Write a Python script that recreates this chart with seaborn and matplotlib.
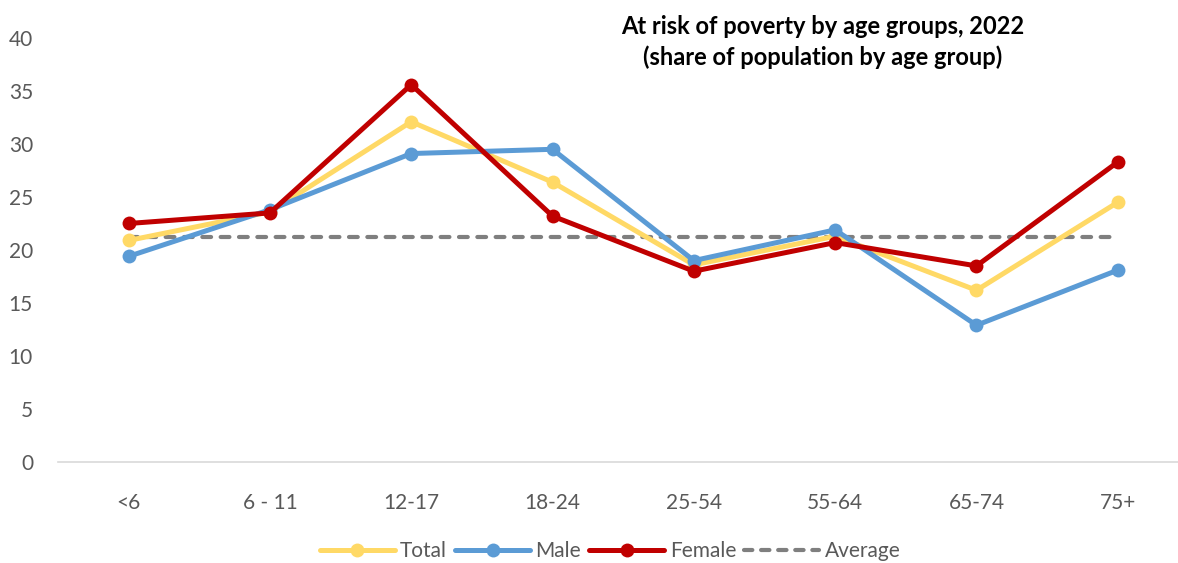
import matplotlib
matplotlib.use("Agg")
import matplotlib.pyplot as plt
import seaborn as sns
import pandas as pd
from matplotlib.lines import Line2D

categories = ["<6", "6 - 11", "12-17", "18-24", "25-54", "55-64", "65-74", "75+"]
total = [20.9, 23.6, 32.1, 26.4, 18.6, 21.3, 16.2, 24.5]
male = [19.4, 23.8, 29.1, 29.5, 19.0, 21.9, 12.9, 18.1]
female = [22.5, 23.5, 35.6, 23.2, 18.0, 20.7, 18.5, 28.3]
average = [21.2] * 8
yticks = [0, 5, 10, 15, 20, 25, 30, 35, 40]

sns.set_theme(style="white")
plt.rcParams['font.family'] = ['Lato', 'DejaVu Sans']

fig = plt.figure(figsize=(11.78, 5.63), dpi=100)
ax = fig.add_axes([58 / 1178, 1 - 462 / 563, 1 - 58 / 1178, (462 - 38) / 563])

df = pd.DataFrame({"Age": categories, "Total": total, "Male": male,
                   "Female": female, "Average": average})
df["pos"] = range(len(categories))

specs = [("Average", "#7F7F7F", None), ("Total", "#FFD966", "o"),
         ("Male", "#5B9BD5", "o"), ("Female", "#C00000", "o")]
handles = {}
for name, color, marker in specs:
    if marker is None:
        sns.lineplot(data=df, x="pos", y=name, ax=ax, color=color, linewidth=3.0,
                     linestyle=(0, (2.1, 2.3)), dash_capstyle="round")
        handles[name] = Line2D([], [], color=color, linewidth=3.0,
                               linestyle=(0, (2.0, 2.1)), dash_capstyle="round")
    else:
        sns.lineplot(data=df, x="pos", y=name, ax=ax, color=color, linewidth=3.6,
                     marker=marker, markersize=10, markeredgewidth=0,
                     solid_capstyle="round")
        handles[name] = Line2D([], [], color=color, linewidth=3.6, marker=marker,
                               markersize=10, markeredgewidth=0,
                               solid_capstyle="round")

ax.set_xlim(-0.5, -0.5 + 1120 / 141.3)
ax.set_ylim(0, 40)
ax.set_yticks(yticks)
ax.set_xticks(range(len(categories)))
ax.set_xticklabels(categories)
ax.set_xlabel("")
ax.set_ylabel("")
for s in ["top", "right", "left"]:
    ax.spines[s].set_visible(False)
ax.spines["bottom"].set_color("#D9D9D9")
ax.spines["bottom"].set_linewidth(1.2)
ax.tick_params(axis="both", length=0, labelsize=15, colors="#595959")
ax.tick_params(axis="x", pad=22)
ax.tick_params(axis="y", pad=18)
ax.grid(False)

fig.text(823 / 1178, 1 - 42 / 563,
         "At risk of poverty by age groups, 2022\n(share of population by age group)",
         ha="center", va="center", fontsize=17, fontweight="bold", color="black",
         linespacing=1.35)

order = ["Total", "Male", "Female", "Average"]
fig.legend([handles[k] for k in order], order, loc="center",
           bbox_to_anchor=(610 / 1178, 1 - 551 / 563), ncol=4, frameon=False,
           fontsize=15, labelcolor="#595959", handlelength=3.6, handletextpad=0.25,
           columnspacing=0.4)

fig.savefig("out.png", dpi=100)
